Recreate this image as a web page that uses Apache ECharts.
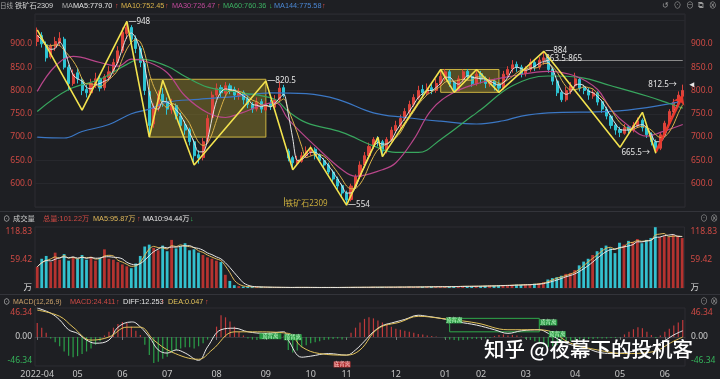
<!DOCTYPE html>
<html><head><meta charset="utf-8">
<script src="https://cdn.jsdelivr.net/npm/echarts@6/dist/echarts.min.js"></script>
<style>html,body{margin:0;padding:0;background:#1e1f23;}#c{width:720px;height:379px;}</style>
</head><body><div id="c"></div>
<script>
// ---- categories (each candle ~ 2 trading days) ----
const monthLabels = ['2022-04','05','06','07','08','09','10','11','12','01','02','03','04','05','06'];
const monthCounts = [9,10,10,11,11,10,8,11,11,8,10,11,10,10,5];

// ---- price (OHLC) ----
const opens = [905,918,898,872,893,902,910,850,815,
 838,822,802,795,812,826,806,828,840,860,
 885,922,935,912,890,858,798,728,765,792,
 776,758,768,745,726,716,690,662,656,690,742,
 790,806,794,810,802,788,796,782,770,760,776,
 758,772,764,780,806,670,656,644,648,660,
 668,674,662,650,640,625,610,596,
 580,566,594,615,640,660,680,696,690,672,694,
 714,724,740,754,770,784,802,794,806,800,815,
 828,840,816,800,824,841,830,815,
 836,826,814,820,812,806,834,846,856,850,
 836,845,860,850,864,870,846,820,796,780,798,
 810,824,806,800,788,795,776,760,745,726,
 716,708,722,714,724,736,720,706,690,676,
 704,730,754,774,788];
const closes = [918,900,870,895,905,912,850,815,835,
 825,800,795,815,825,805,830,840,860,885,
 925,935,910,890,860,800,725,765,790,775,
 760,770,745,725,715,690,660,655,690,740,790,
 805,795,810,800,790,795,780,770,760,775,760,
 770,765,780,805,790,655,645,650,660,670,
 672,660,650,640,625,610,595,580,
 565,595,615,640,660,680,695,690,670,695,715,
 725,740,755,770,785,800,795,805,800,815,830,
 840,815,800,825,840,830,815,835,
 825,815,820,810,805,835,845,855,850,835,
 845,860,850,865,870,845,820,795,780,800,810,
 825,805,800,790,795,775,760,745,725,715,
 710,720,715,725,735,720,705,690,675,705,
 730,755,775,790,800];
const lows = [895,892,862,868,885,895,845,800,810,
 815,790,785,790,805,798,800,820,835,855,
 880,910,900,880,850,790,705,720,755,765,
 748,750,738,715,705,682,645,643,650,685,738,
 782,785,788,792,780,780,770,762,752,755,752,
 755,758,760,775,785,648,632,638,645,655,
 660,652,645,632,620,602,588,570,
 554,562,590,610,635,655,675,680,658,665,690,
 708,718,735,748,765,780,785,790,792,795,810,
 820,808,796,798,818,822,808,810,
 815,805,808,800,796,802,828,838,840,828,
 830,840,842,845,855,838,812,788,775,776,792,
 805,798,792,780,782,768,752,738,718,705,
 700,705,706,710,720,712,698,682,665.5,672,
 700,726,750,770,780];
const highs = [935,925,905,900,915,925,915,855,845,
 848,828,812,825,838,832,835,852,868,895,
 935,948,940,918,895,862,802,772,800,805,
 785,782,772,752,735,720,695,672,698,748,798,
 815,812,818,815,808,805,800,788,775,785,782,
 778,780,790,820,812,675,660,660,668,680,
 682,678,665,655,645,630,615,600,
 585,600,620,648,668,688,700,702,694,700,722,
 735,748,762,778,792,810,812,815,815,825,845,
 846,844,820,832,845,846,835,845,
 842,830,828,825,818,842,852,865,862,855,
 852,868,866,872,884,875,850,824,800,808,818,
 838,828,812,805,802,798,780,765,748,730,
 722,728,726,732,742,740,724,710,695,710,
 735,760,782,798,812.5];

// ---- moving averages: [candle index, value] ----
const ma30Pts = [[0,798],[4,852],[8,873],[14,860],[18,852],[21,867],[25,860],[29,838],[33,788],[38,752],[42,742],[45,750],[53,774],[56,738],[62,681],[68,630],[71,616],[77,630],[80,645],[84,695],[88,759],[93,796],[99,817],[106,831],[114,841],[120,831],[125,802],[128,759],[132,723],[136,702],[139,710],[144,727]];
const ma60Pts = [[0,755],[7,802],[14,824],[20,856],[23,867],[29,852],[33,830],[38,807],[45,796],[53,781],[56,755],[60,731],[68,710],[75,681],[80,667],[85,667],[90,695],[97,745],[99,759],[106,810],[114,831],[121,828],[128,810],[136,788],[141,772],[144,762]];
const ma144Pts = [[0,700],[6,698],[10,712],[16,727],[21,750],[25,760],[29,775],[36,781],[45,788],[52,795],[60,793],[67,781],[75,752],[82,742],[90,734],[98,728],[104,735],[108,745],[114,752],[128,755],[136,763],[144,777]];
const zigPts = [[0,930],[10,758],[20,948],[25,700],[28,822],[35,640],[51,820.5],[57,630],[61,678],[69,554],[76,700],[77,658],[90,845],[93,796],[98,845],[103,796],[113,884],[130,678],[135,753],[138,665.5]];

// ---- volume (万) ----
const volumes = [45,62,68,55,75,60,72,58,65,
 62,70,60,66,58,64,82,62,60,55,
 50,46,42,52,68,88,92,85,80,90,
 78,102,84,88,95,80,82,75,70,65,62,
 58,55,28,15,6,4,3,2.5,2,2,1.8,
 1.5,1.5,1.2,1.4,1.2,1,1.2,1.5,1.3,1.2,
 1,1.2,1,1.3,1.1,1.2,1,1.4,
 1.5,1.3,1.6,1.4,1.8,1.5,2,1.6,1.8,2,1.7,
 2,2.2,1.8,2.5,2,2.2,2.6,2.4,3,2.5,2.8,
 2.6,3,3.5,3.2,4,3.6,3.3,4.2,
 4,4.5,5,4.2,5.5,6,5.2,6.5,7,6.2,
 8,7,9,10,12,18,21,23,26,30,32,
 38,48,56,62,70,78,85,90,84,74,
 96,92,100,98,104,95,102,106,129,108,
 110,108,112,110,106];

// ---- MACD ----
const macdHist = [27,18,8,
 -3,-10,-18,-28,-36,-39,-37,-33,-28,-22,-15,-8,
 3,10,18,25,29,27,20,12,4,
 -15,-35,-50,-48,-42,-38,-30,-25,-22,-20,-20,-22,-18,-12,-5,-1,
 20,42,38,30,20,10,3,
 -3,-5,-6,-4,
 -2,-3,2,3,1,
 -25,-30,-26,-20,-16,-12,-10,
 -8,-6,-5,-4,-3,-5,-2,
 8,18,28,35,38,36,32,28,25,20,16,
 14,12,10,8,6,5,3,2,1,0,
 -3,-5,-6,-7,-6,-5,-4,-4,-3,-3,-2,2,4,5,3,
 4,3,1,
 -4,-6,-8,-12,-16,-20,-18,-15,-12,-10,-8,-6,
 -5,-5,-4,-4,-3,-3,-3,-2,-2,-1,
 5,10,15,19,17,10,
 4,-2,3,
 10,16,22,28,33];
const diffPts = [[0,56],[3,46],[5,33],[7,14],[9,7],[11,-6],[13,-12],[16,-6],[18,19],[21,29],[22,27],[25,0],[27,-25],[29,-31],[31,-25],[33,-31],[36,-45],[38,-19],[41,14],[44,17],[47,10],[51,7],[55,10],[56,-6],[59,-39],[61,-37],[65,-32],[69,-35],[71,-25],[73,-8],[75,10],[77,22],[79,27],[82,34],[85,42],[87,40],[90,36],[94,29],[98,23],[102,14],[105,7],[108,12],[112,14],[114,7],[118,-12],[123,-23],[125,-29],[128,-32],[132,-29],[135,-23],[139,-12],[142,4],[144,12]];
const deaPts = [[0,52],[5,40],[8,19],[12,-6],[16,0],[20,19],[23,19],[26,-6],[30,-29],[36,-43],[39,-25],[44,10],[48,10],[56,7],[59,-19],[63,-32],[69,-35],[72,-25],[76,16],[81,29],[85,40],[90,36],[98,27],[105,14],[111,14],[114,12],[119,-12],[125,-25],[131,-32],[137,-29],[142,-8],[144,0]];

const priceTicks = [600,650,700,750,800,850,900];
const macdTicks = [-46.34, 0, 46.34];

// ---------------------------------------------------------
const cats = [];
monthCounts.forEach((n, m) => { for (let k = 0; k < n; k++) cats.push(m + '|' + k); });
const isMonthStart = (idx) => String(cats[idx]).split('|')[1] === '0';
const catLabel = v => { const p = String(v).split('|'); return p[1] === '0' ? monthLabels[+p[0]] : ''; };

function movAvg(arr, n) {
  return arr.map((_, i) => {
    const s = Math.max(0, i - n + 1); let t = 0;
    for (let j = s; j <= i; j++) t += arr[j];
    return +(t / (i - s + 1)).toFixed(2);
  });
}
const ohlc = closes.map((c, i) => [opens[i], c, lows[i], highs[i]]);
const ma5 = movAvg(closes, 3), ma10 = movAvg(closes, 5);
const vma5 = movAvg(volumes, 3), vma10 = movAvg(volumes, 5);

const UP = '#dc433b', DOWN = '#2dc3d3';
const FONT = '"Noto Sans","Noto Sans CJK SC",sans-serif';
const HFONT = '"Liberation Sans","Noto Sans CJK SC",sans-serif';
const RED = '#cf4a44', GREEN = '#35b35a';

const chart = echarts.init(document.getElementById('c'), null, {renderer: 'canvas'});

function txt(x, y, s, color, size) {
  return {type: 'text', x: x, y: y, silent: true, z: 100,
    style: {text: s, fill: color, font: (size || 7.3) + 'px ' + HFONT, textAlign: 'left', textVerticalAlign: 'middle'}};
}
function lbl(coord, text, pos, color) {
  return {coord: coord, symbol: 'rect', symbolSize: 1, itemStyle: {color: 'rgba(0,0,0,0)'},
    label: {show: true, position: pos, distance: 1, formatter: text, color: color || '#e6e6e6', fontSize: 8, fontFamily: FONT}};
}
function tag(coord, text, w, fill, color) {
  return {coord: coord, symbol: 'rect', symbolSize: [w, 6], itemStyle: {color: fill},
    label: {show: true, position: 'inside', formatter: text, color: color, fontSize: 5.5, fontFamily: FONT}};
}

const axisCommon = {
  type: 'category', data: cats, boundaryGap: true,
  axisLine: {show: false}, axisTick: {show: false}, axisLabel: {show: false}, splitLine: {show: false}
};
const volFmt = v => { v = +v; return v === 0 ? '万' : Math.abs(v - 59.415) < 0.01 ? '59.42' : Math.abs(v - 118.83) < 0.01 ? '118.83' : ''; };

const option = {
  backgroundColor: '#1e1f23',
  animation: false,
  grid: [
    {left: 35, right: 35, top: 14, height: 193, show: true, borderColor: '#2c2d33', borderWidth: 1},
    {left: 35, right: 35, top: 227, height: 61, show: true, borderColor: '#2c2d33', borderWidth: 1},
    {left: 35, right: 35, top: 308, height: 58, show: true, borderColor: '#2c2d33', borderWidth: 1}
  ],
  xAxis: [
    Object.assign({}, axisCommon, {gridIndex: 0}),
    Object.assign({}, axisCommon, {gridIndex: 1}),
    Object.assign({}, axisCommon, {gridIndex: 2,
      axisLine: {show: true, lineStyle: {color: '#3a3b41'}},
      axisTick: {show: true, interval: isMonthStart, alignWithLabel: true, length: 3, lineStyle: {color: '#777'}},
      axisLabel: {show: true, interval: isMonthStart, formatter: catLabel, color: '#c4c4c4', fontSize: 9, fontFamily: FONT, margin: 4}})
  ],
  yAxis: [
    {type: 'value', gridIndex: 0, position: 'left', min: 550, max: 964, interval: 50,
      axisLine: {show: false}, axisTick: {show: false},
      splitLine: {show: true, lineStyle: {color: '#27282d', width: 1}},
      axisLabel: {formatter: v => priceTicks.includes(+v) ? (+v).toFixed(1) : '', color: RED, fontSize: 8.5, fontFamily: FONT, margin: 3}},
    {type: 'value', gridIndex: 0, position: 'right', min: 550, max: 964, interval: 50,
      axisLine: {show: false}, axisTick: {show: false}, splitLine: {show: false},
      axisLabel: {formatter: v => priceTicks.includes(+v) ? (+v).toFixed(1) : '', color: RED, fontSize: 8.5, fontFamily: FONT, margin: 6}},
    {type: 'value', gridIndex: 1, position: 'left', min: 0, max: 129.4, interval: 59.415,
      axisLine: {show: false}, axisTick: {show: false}, splitLine: {show: false},
      axisLabel: {formatter: volFmt, color: v => (+v === 0 ? '#dcdcdc' : RED), fontSize: 8.5, fontFamily: FONT, margin: 3}},
    {type: 'value', gridIndex: 1, position: 'right', min: 0, max: 129.4, interval: 59.415,
      axisLine: {show: false}, axisTick: {show: false}, splitLine: {show: false},
      axisLabel: {formatter: volFmt, color: v => (+v === 0 ? '#dcdcdc' : RED), fontSize: 8.5, fontFamily: FONT, margin: 6}},
    {type: 'value', gridIndex: 2, position: 'left', min: -56, max: 56,
      axisLine: {show: false}, axisTick: {show: false}, splitLine: {show: false},
      axisLabel: {customValues: macdTicks, formatter: v => (+v).toFixed(2),
        color: v => (+v > 0 ? RED : +v < 0 ? GREEN : '#d0d0d0'), fontSize: 8.5, fontFamily: FONT, margin: 3}},
    {type: 'value', gridIndex: 2, position: 'right', min: -56, max: 56,
      axisLine: {show: false}, axisTick: {show: false}, splitLine: {show: false},
      axisLabel: {customValues: macdTicks, formatter: v => (+v).toFixed(2),
        color: v => (+v > 0 ? RED : +v < 0 ? GREEN : '#d0d0d0'), fontSize: 8.5, fontFamily: FONT, margin: 6}}
  ],
  series: [
    {type: 'candlestick', name: 'K', xAxisIndex: 0, yAxisIndex: 0, data: ohlc, barWidth: 2.6,
      itemStyle: {color: UP, color0: DOWN, borderColor: UP, borderColor0: DOWN, borderWidth: 1},
      markArea: {silent: true, data: [
        [{coord: [25, 824], itemStyle: {color: 'rgba(150,132,40,0.45)', borderColor: '#cdb541', borderWidth: 1}}, {coord: [51, 700]}],
        [{coord: [90, 845], itemStyle: {color: 'rgba(150,132,40,0.45)', borderColor: '#cdb541', borderWidth: 1}}, {coord: [103, 796]}]
      ]},
      markLine: {silent: true, symbol: ['none', 'none'], label: {show: false}, data: [
        [{coord: [113, 865], lineStyle: {color: '#8a8a8a', width: 1, type: 'solid'}}, {coord: [144, 865]}],
        [{coord: [55, 552], lineStyle: {color: '#a8943c', width: 1, type: 'solid'}}, {coord: [55, 571]}],
        [{coord: [138, 668], symbol: 'none', lineStyle: {color: '#e8382c', width: 2.5, type: 'solid'}}, {coord: [144, 790], symbol: 'arrow', symbolSize: 9}]
      ]},
      markPoint: {silent: true, data: [
        lbl([20, 948], '—948', 'right'),
        lbl([51, 820.5], '—820.5', 'right'),
        lbl([69, 554], '—554', 'right'),
        lbl([113, 886], '—884', 'right'),
        lbl([113, 868], '863.5-865', 'right'),
        lbl([143, 812.5], '812.5→', 'left'),
        lbl([137, 665.5], '665.5→', 'left'),
        lbl([55, 556], '铁矿石2309', 'right', '#c9ac3c'),
        {coord: [144, 812.5], symbol: 'triangle', symbolSize: 5, symbolRotate: 90, symbolOffset: [9, 0], itemStyle: {color: '#e8e8e8'}, label: {show: false}}
      ]}
    },
    {type: 'line', name: 'MA144', xAxisIndex: 0, yAxisIndex: 0, data: ma144Pts, smooth: 0.4, showSymbol: false, lineStyle: {color: '#3b77c4', width: 1.2}},
    {type: 'line', name: 'MA60', xAxisIndex: 0, yAxisIndex: 0, data: ma60Pts, smooth: 0.4, showSymbol: false, lineStyle: {color: '#38a65e', width: 1.2}},
    {type: 'line', name: 'MA30', xAxisIndex: 0, yAxisIndex: 0, data: ma30Pts, smooth: 0.4, showSymbol: false, lineStyle: {color: '#b8468a', width: 1.2}},
    {type: 'line', name: 'MA10', xAxisIndex: 0, yAxisIndex: 0, data: ma10, smooth: 0.3, showSymbol: false, lineStyle: {color: '#d9b24a', width: 1}},
    {type: 'line', name: 'MA5', xAxisIndex: 0, yAxisIndex: 0, data: ma5, smooth: 0.3, showSymbol: false, lineStyle: {color: '#e4e4e4', width: 1}},
    {type: 'line', name: 'ZIG', xAxisIndex: 0, yAxisIndex: 0, data: zigPts, showSymbol: false, lineStyle: {color: '#f2e24e', width: 1.6}, z: 5},

    {type: 'bar', name: 'VOL', xAxisIndex: 1, yAxisIndex: 2, data: volumes, barWidth: '62%',
      itemStyle: {color: p => (closes[p.dataIndex] >= opens[p.dataIndex] ? '#b53330' : '#33c1cf')}},
    {type: 'line', name: 'VMA5', xAxisIndex: 1, yAxisIndex: 2, data: vma5, smooth: 0.3, showSymbol: false, lineStyle: {color: '#e0b85a', width: 1}},
    {type: 'line', name: 'VMA10', xAxisIndex: 1, yAxisIndex: 2, data: vma10, smooth: 0.3, showSymbol: false, lineStyle: {color: '#e6e6e6', width: 1}},

    {type: 'bar', name: 'MACD', xAxisIndex: 2, yAxisIndex: 4, data: macdHist, barWidth: 1.2,
      itemStyle: {color: p => (p.value >= 0 ? '#c0393b' : '#2a9f48')}},
    {type: 'line', name: 'DIFF', xAxisIndex: 2, yAxisIndex: 4, data: diffPts, smooth: 0.4, showSymbol: false, lineStyle: {color: '#e8e8e8', width: 1},
      markArea: {silent: true, data: [[{coord: [92, 36], itemStyle: {color: 'rgba(0,0,0,0)', borderColor: '#2fa84a', borderWidth: 1}}, {coord: [112, 10]}]]},
      markPoint: {silent: true, data: [
        tag([52, 1.5], '顶背离', 22, 'rgba(40,170,70,0.85)', '#c8ffd0'),
        tag([57, -0.5], '顶背离', 18, 'rgba(40,170,70,0.85)', '#c8ffd0'),
        tag([93, 32], '顶背离', 16, 'rgba(40,170,70,0.85)', '#c8ffd0'),
        tag([114, 28], '顶背离', 18, 'rgba(40,170,70,0.85)', '#c8ffd0'),
        tag([116, 5.5], '顶背离', 17, 'rgba(40,170,70,0.85)', '#c8ffd0'),
        tag([68, -53], '底背离', 17, 'rgba(200,50,50,0.85)', '#ffd0d0')
      ]}},
    {type: 'line', name: 'DEA', xAxisIndex: 2, yAxisIndex: 4, data: deaPts, smooth: 0.4, showSymbol: false, lineStyle: {color: '#e2c25a', width: 1}}
  ],
  graphic: [
    {type: 'line', silent: true, shape: {x1: 0, y1: 211.5, x2: 720, y2: 211.5}, style: {stroke: '#33343a', lineWidth: 1}},
    {type: 'line', silent: true, shape: {x1: 0, y1: 294.5, x2: 720, y2: 294.5}, style: {stroke: '#33343a', lineWidth: 1}},
    // header
    txt(0, 6, '日线', '#a8a8a8', 6.5),
    txt(15, 6, '铁矿石2309', '#d6d6d6', 7.3),
    txt(62, 6, 'MA', '#b0b0b0'),
    txt(73, 6, 'MA5:779.70', '#e6e6e6'),
    txt(115, 6, '↑', RED),
    txt(121, 6, 'MA10:752.45', '#d9b24a'),
    txt(165, 6, '↑', RED),
    txt(172, 6, 'MA30:726.47', '#c0499a'),
    txt(217, 6, '↑', RED),
    txt(223, 6, 'MA60:760.36', '#3cb062'),
    txt(269, 6, '↓', GREEN),
    txt(274, 6, 'MA144:775.58', '#4a86d2'),
    txt(322, 6, '↑', RED),
    txt(662, 6, '↺  ⊙  ⊖  ⧉  ⊗', '#9a9a9a', 8),
    // volume header
    txt(3, 219, '⊙', '#cfcfcf'),
    txt(13, 219, '成交量', '#c8c8c8'),
    txt(43, 219, '总量:101.22万', RED),
    txt(93, 219, 'MA5:95.87万', '#e0b85a'),
    txt(137, 219, '↑', RED),
    txt(143, 219, 'MA10:94.44万', '#e6e6e6'),
    txt(190, 219, '↓', GREEN),
    txt(700, 219, '⊙ ⊗', '#9a9a9a', 8),
    // macd header
    txt(3, 302, '⊙', '#cfcfcf'),
    txt(13, 302, 'MACD(12,26,9)', '#c9a06a', 7),
    txt(70, 302, 'MACD:24.411', RED),
    txt(116, 302, '↑', RED),
    txt(123, 302, 'DIFF:12.253', '#e6e6e6'),
    txt(161, 302, '↑', RED),
    txt(168, 302, 'DEA:0.047', '#e2c25a'),
    txt(205, 302, '↑', RED),
    txt(700, 302, '⊙ ⊗', '#9a9a9a', 8),
    // watermark
    {type: 'text', x: 484, y: 349, silent: true, z: 200,
      style: {text: '知乎 @夜幕下的投机客', fill: '#ffffff', font: '500 20.5px "Noto Sans CJK SC",sans-serif', textVerticalAlign: 'middle',
        shadowColor: 'rgba(0,0,0,0.6)', shadowBlur: 2}}
  ]
};
chart.setOption(option);
</script>
</body></html>
